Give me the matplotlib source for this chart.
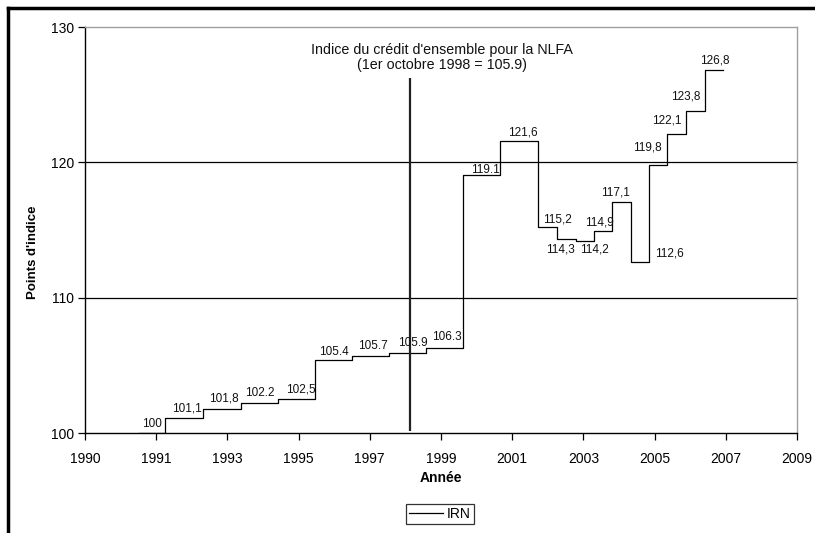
import matplotlib
matplotlib.use("Agg")
import matplotlib.pyplot as plt
from matplotlib.lines import Line2D

plt.rcParams['font.family'] = ['Liberation Sans', 'DejaVu Sans']

# ---- data ----
tick_labels = ['1990', '1991', '1993', '1995', '1997', '1999', '2001', '2003', '2005', '2007', '2009']
tick_pos = [1989, 1991, 1993, 1995, 1997, 1999, 2001, 2003, 2005, 2007, 2009]
step_starts = [1990.52, 1991.24, 1992.32, 1993.37, 1994.41, 1995.45, 1996.49, 1997.54,
               1998.57, 1999.61, 2000.66, 2001.73, 2002.25, 2002.78, 2003.30, 2003.81,
               2004.33, 2004.85, 2005.36, 2005.88, 2006.42]
step_end = 2006.93
irn_values = [100, 101.1, 101.8, 102.2, 102.5, 105.4, 105.7, 105.9, 106.3, 119.1, 121.6,
              115.2, 114.3, 114.2, 114.9, 117.1, 112.6, 119.8, 122.1, 123.8, 126.8]
value_labels = ['100', '101,1', '101,8', '102.2', '102,5', '105.4', '105.7', '105.9', '106.3',
                '119.1', '121,6', '115,2', '114,3', '114,2', '114,9', '117,1', '112,6',
                '119,8', '122,1', '123,8', '126,8']
# label offsets (pixels) from segment midpoint
label_dx = [0, 3, 2, 1, 5, 1, 3, 6, 3, 4, 4, 10, -6, 10, -4, -6, 29, -11, -10, -10, 1]
label_dy = [9, 10, 10, 10, 10, 8, 10, 10, 11, 5, 8, 8, -10, -9, 9, 9, 9, 18, 13, 14, 10]
ref_x = 1998.13
ref_top = 126.24
ref_label = "Indice du crédit d'ensemble pour la NLFA\n(1er octobre 1998 = 105.9)"
y_ticks = [100, 110, 120, 130]

W, H = 815, 533
fig = plt.figure(figsize=(W / 100, H / 100), dpi=100)
ax = fig.add_axes([85 / W, 1 - 433 / H, (797 - 85) / W, (433 - 27) / H])

ax.set_xlim(1989, 2009)
ax.set_ylim(100, 130)

# gridlines
for yv in y_ticks[1:-1]:
    ax.axhline(yv, color='black', lw=0.9, zorder=1)

xs = step_starts + [step_end]
ys = irn_values + [irn_values[-1]]
ax.step(xs, ys, where='post', color='black', lw=0.9, zorder=3, label='IRN')

ax.vlines(ref_x, 100.15, ref_top, color='#222222', lw=1.6, zorder=4)
ax.text(ref_x + 0.9, 127.75, ref_label, ha='center', va='center', fontsize=10.3,
        linespacing=1.1, color='#111111')

for i, lab in enumerate(value_labels):
    x0 = xs[i]
    x1 = xs[i + 1]
    ax.annotate(lab, xy=((x0 + x1) / 2, irn_values[i]),
                xytext=(label_dx[i], label_dy[i]), textcoords='offset pixels',
                ha='center', va='center', fontsize=8.5, color='#111111', zorder=5)

ax.set_xticks(tick_pos)
ax.set_xticklabels(tick_labels)
ax.set_yticks(y_ticks)
ax.tick_params(axis='x', direction='out', length=5, width=0.9, pad=9, labelsize=10)
ax.tick_params(axis='y', direction='out', length=5, width=0.9, pad=3, labelsize=10)

for s in ['left', 'bottom']:
    ax.spines[s].set_color('black')
    ax.spines[s].set_linewidth(1.0)
for s in ['top', 'right']:
    ax.spines[s].set_color('#a0a0a0')
    ax.spines[s].set_linewidth(1.0)

fig.text(33 / W, 1 - 252 / H, "Points d'indice", rotation=90, ha='center', va='center',
         fontsize=9.5, fontweight='bold')
fig.text(441 / W, 1 - 478 / H, "Année", ha='center', va='center', fontsize=10,
         fontweight='bold')

leg = fig.legend(loc='center', bbox_to_anchor=(440 / W, 1 - 514 / H), frameon=True,
                 fancybox=False, fontsize=10, handlelength=2.4, handletextpad=0.3,
                 borderpad=0.25, borderaxespad=0)
leg.get_frame().set_edgecolor('black')
leg.get_frame().set_linewidth(0.9)

# figure border (top and left)
fig.add_artist(Line2D([7.5 / W, 1.0], [1 - 7.5 / H, 1 - 7.5 / H], transform=fig.transFigure,
                      color='black', lw=2.5))
fig.add_artist(Line2D([7.5 / W, 7.5 / W], [0, 1 - 7.5 / H], transform=fig.transFigure,
                      color='black', lw=2.5))

fig.savefig('out.png', dpi=100)
